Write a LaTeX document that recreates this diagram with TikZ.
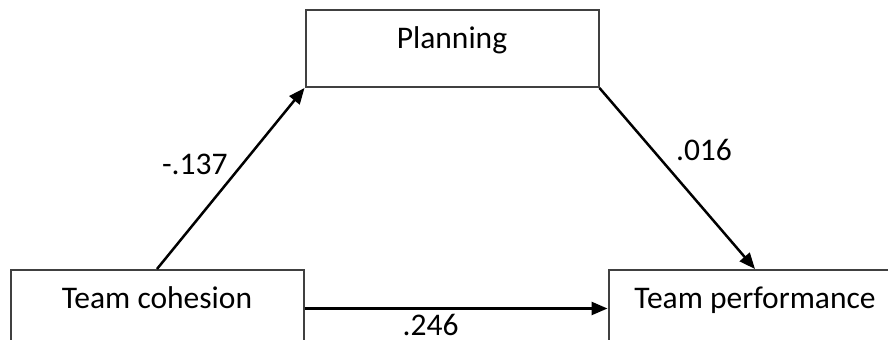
\documentclass[tikz,border=0pt]{standalone}
\usepackage{fontspec}
\setmainfont{Carlito}
\usepackage{tikz}
\usetikzlibrary{arrows.meta,positioning}
\definecolor{boxgray}{HTML}{404040}

\begin{document}
\begin{tikzpicture}[
    x=0.5pt, y=0.5pt,
    font=\fontsize{15.75}{19}\selectfont,
    varbox/.style={rectangle, draw=boxgray, fill=white, line width=1pt, minimum width=146.5pt, minimum height=38.5pt, text height=1.4ex, text depth=1.4ex, inner sep=0pt},
    pathline/.style={-{Triangle[length=8pt, width=6.5pt]}, line width=1.25pt, draw=black},
    coef/.style={inner sep=1pt}
]
    \clip (0,0) rectangle (888,340);

    % Predictor, mediator and outcome
    \node (cohesion) [varbox] at (157,31.5) {Team cohesion};
    \node (perf) [varbox, right=151.5pt of cohesion] {Team performance};
    \node (plan) [varbox, above right=90.5pt and 0pt of cohesion] {Planning};

    % Paths with coefficients
    \draw[pathline] (cohesion.north) -- node[coef, pos=0.5, anchor=south east] {-.137} (plan.south west);
    \draw[pathline] (plan.south east) -- node[coef, pos=0.42, anchor=south west, xshift=4pt] {.016} (perf.north);
    \draw[pathline] (cohesion.east) -- node[coef, pos=0.416, below=1pt] {.246} (perf.west);
\end{tikzpicture}
\end{document}
